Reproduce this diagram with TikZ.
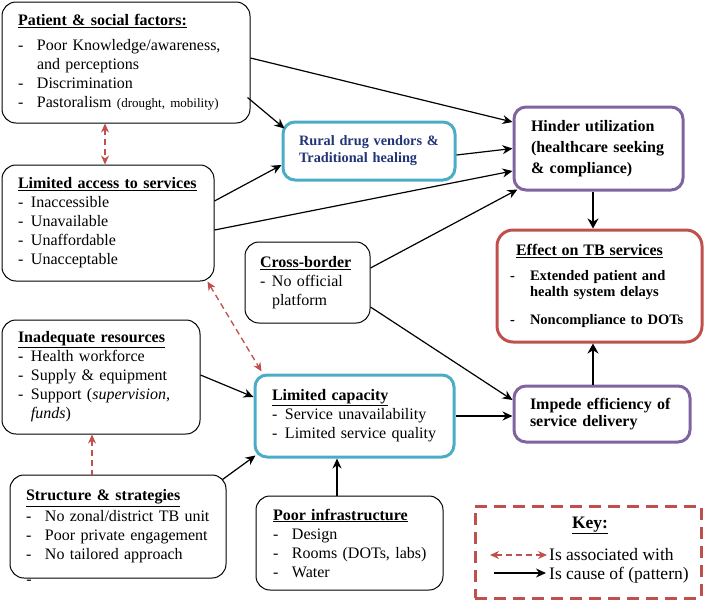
\documentclass[tikz,border=0pt]{standalone}
\usepackage{fontspec}
\setmainfont{Liberation Serif}
\usetikzlibrary{shapes.geometric, arrows.meta, calc}
\definecolor{redb}{RGB}{192,80,77}
\definecolor{cyanb}{RGB}{75,172,198}
\definecolor{purpb}{RGB}{128,100,162}
\definecolor{navyb}{RGB}{32,52,118}
\newcommand{\bitem}[2][19pt]{\mbox{\makebox[#1][l]{-}#2}}
\newcommand{\bcont}[2][19pt]{\mbox{\hspace*{#1}#2}}
\tikzstyle{factor} = [rectangle, rounded corners=14pt, draw=black, line width=1pt, align=left, inner xsep=16pt, inner ysep=0pt, font=\fontsize{16}{19}\selectfont]
\tikzstyle{mediator} = [rectangle, rounded corners=12pt, draw=cyanb, line width=3pt, align=left, inner xsep=16pt, inner ysep=0pt, font=\fontsize{16}{19}\selectfont]
\tikzstyle{outcome} = [rectangle, rounded corners=12pt, draw=purpb, line width=3pt, align=left, inner xsep=16pt, inner ysep=0pt, font=\bfseries\fontsize{16}{21}\selectfont]
\tikzstyle{effect} = [rectangle, rounded corners=16pt, draw=redb, line width=3pt, align=left, inner xsep=13pt, inner ysep=0pt, font=\bfseries\fontsize{14.5}{16.5}\selectfont]
\tikzstyle{keybox} = [rectangle, draw=redb, line width=3pt, dash pattern=on 12pt off 7pt]
\tikzstyle{legend} = [inner sep=0pt, font=\fontsize{17.5}{19}\selectfont]
\tikzstyle{arrow} = [line width=1.2pt,->,>={Stealth[length=10pt,width=9pt]}]
\tikzstyle{bigarrow} = [line width=2.5pt,->,>={Stealth[length=10pt,width=11pt]}]
\tikzstyle{assoc} = [line width=1.3pt, draw=redb, dash pattern=on 6pt off 4pt, <->, >={Stealth[length=9pt,width=8pt]}]

\begin{document}
\begin{tikzpicture}[x=1pt, y=-1pt]
  \useasboundingbox (0,0) rectangle (709,600);
  % causes on the left
  \node (patient) [factor, text width=216pt, minimum width=248pt, minimum height=121pt] at (126,62.5) {\underline{\textbf{Patient \& social factors:}}\\[6pt]\bitem{Poor Knowledge/awareness,}\\\bcont{and perceptions}\\\bitem{Discrimination}\\\bitem{Pastoralism {\fontsize{13}{19}\selectfont (drought, mobility)}}};
  \node (access) [factor, text width=180pt, minimum width=212pt, minimum height=116pt] at (108,223) {\underline{\textbf{Limited access to services}}\\\bitem[13pt]{Inaccessible}\\\bitem[13pt]{Unavailable}\\\bitem[13pt]{Unaffordable}\\\bitem[13pt]{Unacceptable}};
  \node (inadequate) [factor, text width=166pt, minimum width=198pt, minimum height=114pt] at (101,377) {\underline{\textbf{Inadequate resources}}\\\bitem[13pt]{Health workforce}\\\bitem[13pt]{Supply \& equipment}\\\bitem[13pt]{Support (\textit{supervision,}}\\\bcont[13pt]{\textit{funds})}};
  \node (structure) [factor, text width=184pt, minimum width=216pt, minimum height=103pt] at (118,526.5) {\underline{\textbf{Structure \& strategies}}\\[2pt]\bitem{No zonal/district TB unit}\\\bitem{Poor private engagement}\\\bitem{No tailored approach}};
  \node (stray) [factor, draw=none, inner sep=0pt] at (29,582) {-};
  \node (cross) [factor, inner xsep=15pt, text width=95pt, minimum width=125pt, minimum height=81pt] at (307.5,282.5) {\underline{\textbf{Cross-border}}\\\bitem[12pt]{No official}\\\bcont[12pt]{platform}};
  \node (infra) [factor, inner xsep=17pt, text width=153pt, minimum width=187pt, minimum height=94pt] at (349.5,543) {\underline{\textbf{Poor infrastructure}}\\\bitem{Design}\\\bitem{Rooms (DOTs, labs)}\\\bitem{Water}};
  % mediators
  \node (rural) [mediator, text width=140pt, minimum width=172pt, minimum height=58pt, text=navyb, font=\bfseries\fontsize{14.3}{17}\selectfont] at (369,151) {Rural drug vendors \&\\Traditional healing};
  \node (capacity) [mediator, inner xsep=17pt, text width=165pt, minimum width=199pt, minimum height=82pt] at (354.5,416) {\underline{\textbf{Limited capacity}}\\\bitem[13pt]{Service unavailability}\\\bitem[13pt]{Limited service quality}};
  % outcomes
  \node (hinder) [outcome, inner xsep=17pt, text width=135pt, minimum width=169pt, minimum height=83pt] at (598.5,148.5) {Hinder utilization\\(healthcare seeking\\\& compliance)};
  \node (impede) [outcome, text width=144pt, minimum width=176pt, minimum height=56pt, font=\bfseries\fontsize{16}{17.5}\selectfont] at (602,414) {Impede efficiency of\\service delivery};
  \node (effect) [effect, text width=179pt, minimum width=205pt, minimum height=112pt] at (599.5,286) {\hspace*{6pt}\underline{\fontsize{16}{16.5}\selectfont Effect on TB services}\\[8pt]\bitem[20pt]{Extended patient and}\\\bcont[20pt]{health system delays}\\[11pt]\bitem[20pt]{Noncompliance to DOTs}};
  % key
  \node (key) [keybox, minimum width=226pt, minimum height=92pt] at (588,552) {};
  \node (keyhead) [legend, anchor=base] at (590,528) {\underline{\textbf{Key:}}};
  \coordinate (assocA) at (490,555);
  \coordinate (assocB) at (547,555);
  \coordinate (causeA) at (494,573);
  \coordinate (causeB) at (546,573);
  \node (assoctxt) [legend, anchor=base west] at (549,560) {Is associated with};
  \node (causetxt) [legend, anchor=base west] at (549,579) {Is cause of (pattern)};
  % connectors
  \draw [arrow] ([yshift=4.5pt]patient.east) -- ([yshift=26.5pt]hinder.west);
  \draw [arrow] ([xshift=-3pt,yshift=26pt]patient.south east) -- ([xshift=3pt,yshift=-8pt]rural.north west);
  \draw [arrow] ([yshift=-4pt]rural.east) -- (hinder.west);
  \draw [arrow] ([yshift=22pt]access.east) -- ([yshift=-14pt]rural.west);
  \draw [arrow] ([yshift=-7pt]access.east) -- ([yshift=-22.5pt]hinder.west);
  \draw [arrow] ([yshift=14.5pt]cross.east) -- ([xshift=5pt,yshift=2pt]hinder.south west);
  \draw [arrow] ([yshift=-24.5pt]cross.east) -- ([yshift=14pt]impede.west);
  \draw [arrow] ([yshift=2pt]inadequate.east) -- ([yshift=19pt]capacity.west);
  \draw [arrow] ([xshift=-4pt,yshift=-5pt]structure.north east) -- ([xshift=2pt,yshift=3pt]capacity.south west);
  \draw [arrow] ([xshift=-12.5pt]infra.north) -- ([xshift=-17.5pt]capacity.south);
  \draw [arrow] (capacity.east) -- (capacity.east -| impede.west);
  \draw [bigarrow] ([xshift=-5.5pt]hinder.south) -- ([xshift=-6.5pt]effect.north);
  \draw [bigarrow] ([xshift=-9pt]impede.north) -- ([xshift=-6.5pt]effect.south);
  \draw [assoc] ([xshift=-21pt]patient.south) -- ([xshift=-3pt]access.north);
  \draw [assoc] ([xshift=-7pt]access.south east) -- ([xshift=8pt,yshift=2pt]capacity.north west);
  \draw [assoc, <-] ([xshift=-9pt]inadequate.south) -- ([xshift=-26pt]structure.north);
  \draw [assoc] (assocA) -- (assocB);
  \draw [arrow] (causeA) -- (causeB);
\end{tikzpicture}
\end{document}
